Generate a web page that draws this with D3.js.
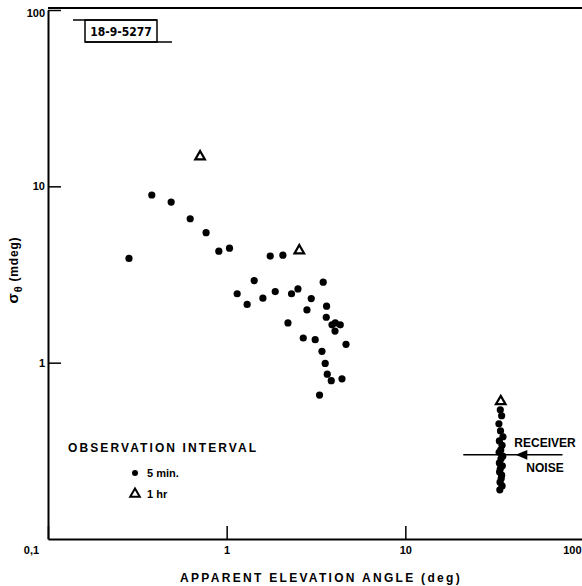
<!DOCTYPE html>
<meta charset="utf-8">
<html>
<head><title>Sigma theta vs elevation</title></head>
<style>
body { margin: 0; background: #fff; }
text { font-family: "Liberation Sans", Arial, sans-serif; font-weight: bold; fill: #000; }
</style>
<body>
<script src="https://d3js.org/d3.v7.min.js"></script>
<svg id="chart" width="582" height="586"></svg>
<script>

// apparent elevation angle (deg) and sigma theta (mdeg), 5 min interval
var elev5min = [0.284, 0.381, 0.489, 0.625, 0.767, 0.904, 1.037, 1.753, 2.064, 1.426,
  3.47, 1.145, 1.302, 1.595, 1.87, 2.307, 2.506, 2.974, 3.624, 2.814,
  3.61, 2.203, 3.886, 4.055, 4.324, 4.04, 2.683, 3.13, 4.654, 3.415,
  3.56, 3.656, 3.85, 4.42, 3.31];
var sigma5min = [3.90, 8.93, 8.14, 6.55, 5.46, 4.29, 4.46, 4.02, 4.07, 2.92,
  2.86, 2.46, 2.14, 2.32, 2.53, 2.46, 2.62, 2.31, 2.09, 1.99,
  1.81, 1.68, 1.64, 1.68, 1.64, 1.51, 1.38, 1.35, 1.27, 1.16,
  0.99, 0.86, 0.79, 0.81, 0.655];

// receiver noise cluster (5 min)
var elevNoise = [34.0, 34.6, 33.4, 34.1, 35.2, 33.6, 34.8, 34.2, 33.5, 35.1,
  34.3, 33.6, 34.9, 34.0, 33.7, 34.6, 34.4, 33.9, 34.8, 33.8];
var sigmaNoise = [0.54, 0.50, 0.45, 0.41, 0.38, 0.36, 0.34, 0.32, 0.31, 0.295,
  0.285, 0.27, 0.26, 0.25, 0.24, 0.23, 0.22, 0.21, 0.20, 0.19];

// 1 hr interval
var elev1hr = [0.71, 2.55, 34.2];
var sigma1hr = [14.75, 4.32, 0.603];

// receiver noise level
var noiseLevel = 0.3;
var noiseLineX = [21.1, 75.8];
var noiseArrowX = 45.8;

var xTicks = [0.1, 1, 10, 100];
var xTickLabels = ["0,1", "1", "10", "100"];
var yTicks = [1, 10, 100];
var yTickLabels = ["1", "10", "100"];

var svg = d3.select("#chart");

var x = d3.scaleLog().domain([0.1, 100]).range([48, 584]);
var y = d3.scaleLog().domain([0.1, 100]).range([539, 10]);

// axes
var xAxis = d3.axisBottom(x)
  .tickValues(xTicks)
  .tickFormat(function(d, i) { return xTickLabels[i]; })
  .tickSizeInner(-13)
  .tickSizeOuter(0)
  .tickPadding(7);

var gx = svg.append("g")
  .attr("transform", "translate(0," + y(0.1) + ")")
  .call(xAxis);
gx.selectAll("text").style("font-size", "11px").attr("font-family", null);
gx.select(".domain").attr("stroke-width", 2);
gx.selectAll(".tick line").attr("stroke-width", 1.5);
gx.selectAll(".tick").filter(function(d) { return d === 0.1; })
  .select("text").attr("x", -17);
gx.selectAll(".tick").filter(function(d) { return d === 100; })
  .select("text").attr("text-anchor", "end").attr("x", -3);

var yAxis = d3.axisLeft(y)
  .tickValues(yTicks)
  .tickFormat(function(d, i) { return yTickLabels[i]; })
  .tickSizeInner(-13)
  .tickSizeOuter(0)
  .tickPadding(3);

var gy = svg.append("g")
  .attr("transform", "translate(" + x(0.1) + ",0)")
  .call(yAxis);
gy.selectAll("text").style("font-size", "11px").attr("font-family", null);
gy.select(".domain").attr("stroke-width", 2);
gy.selectAll(".tick line").attr("stroke-width", 1.5);
gy.selectAll(".tick").filter(function(d) { return d === 100; })
  .select("text").attr("dy", "0.55em");

// top frame
svg.append("line")
  .attr("x1", x(0.1)).attr("x2", 582)
  .attr("y1", y(100) - 2).attr("y2", y(100) - 2)
  .attr("stroke", "#000").attr("stroke-width", 2);

// figure number box
svg.append("rect")
  .attr("x", 85).attr("y", 20).attr("width", 72).attr("height", 22)
  .attr("fill", "none").attr("stroke", "#000").attr("stroke-width", 1.5);
svg.append("line").attr("x1", 73).attr("x2", 157).attr("y1", 20).attr("y2", 20)
  .attr("stroke", "#000").attr("stroke-width", 1.5);
svg.append("line").attr("x1", 85).attr("x2", 172).attr("y1", 42).attr("y2", 42)
  .attr("stroke", "#000").attr("stroke-width", 1.5);
svg.append("text")
  .attr("x", 121).attr("y", 35.5)
  .attr("text-anchor", "middle")
  .style("font-size", "12px")
  .style("font-family", "'DejaVu Sans Condensed', 'Liberation Sans Narrow', sans-serif")
  .text("18-9-5277");

// axis titles
svg.append("text")
  .attr("x", 321).attr("y", 582)
  .attr("text-anchor", "middle")
  .style("font-size", "12px")
  .style("letter-spacing", "2.3px")
  .text("APPARENT ELEVATION ANGLE (deg)");

var yl = svg.append("text")
  .attr("transform", "translate(18,270) rotate(-90)")
  .attr("text-anchor", "middle")
  .style("font-size", "12px")
  .style("letter-spacing", "0.8px");
yl.append("tspan").style("font-size", "15px").text("σ");
yl.append("tspan").attr("dy", 4).style("font-size", "11px").text("θ");
yl.append("tspan").attr("dy", -4).text(" (mdeg)");

// receiver noise line and arrow
svg.append("line")
  .attr("x1", x(noiseLineX[0])).attr("x2", x(noiseLineX[1]))
  .attr("y1", y(noiseLevel)).attr("y2", y(noiseLevel))
  .attr("stroke", "#000").attr("stroke-width", 1.5);
svg.append("path")
  .attr("d", d3.symbol(d3.symbolTriangle, 40)())
  .attr("transform", "translate(" + x(noiseArrowX) + "," + y(noiseLevel) + ") rotate(-90) scale(1,1.4)")
  .attr("fill", "#000");

svg.append("text").attr("x", 545).attr("y", 447)
  .attr("text-anchor", "middle").style("font-size", "12px").text("RECEIVER");
svg.append("text").attr("x", 545).attr("y", 472)
  .attr("text-anchor", "middle").style("font-size", "12px").text("NOISE");

// 5 min points
var pts5 = elev5min.map(function(d, i) { return [d, sigma5min[i]]; })
  .concat(elevNoise.map(function(d, i) { return [d, sigmaNoise[i]]; }));

svg.append("g")
  .selectAll("circle")
  .data(pts5)
  .enter()
  .append("circle")
  .attr("cx", function(d) { return x(d[0]); })
  .attr("cy", function(d) { return y(d[1]); })
  .attr("r", 3.6)
  .attr("fill", "#000");

// 1 hr points
var tri = d3.symbol(d3.symbolTriangle, 40);
svg.append("g")
  .selectAll("path")
  .data(elev1hr)
  .enter()
  .append("path")
  .attr("d", tri())
  .attr("transform", function(d, i) { return "translate(" + x(d) + "," + y(sigma1hr[i]) + ")"; })
  .attr("fill", "#fff")
  .attr("stroke", "#000")
  .attr("stroke-width", 2.2);

// legend
svg.append("text").attr("x", 68).attr("y", 452)
  .style("font-size", "12px").style("letter-spacing", "2.1px")
  .text("OBSERVATION INTERVAL");
svg.append("circle").attr("cx", 135).attr("cy", 473).attr("r", 3).attr("fill", "#000");
svg.append("text").attr("x", 147).attr("y", 477).style("font-size", "11px").text("5 min.");
svg.append("path").attr("d", tri())
  .attr("transform", "translate(135,494)")
  .attr("fill", "#fff").attr("stroke", "#000").attr("stroke-width", 2);
svg.append("text").attr("x", 147).attr("y", 498).style("font-size", "11px").text("1 hr");

</script>
</body>
</html>
